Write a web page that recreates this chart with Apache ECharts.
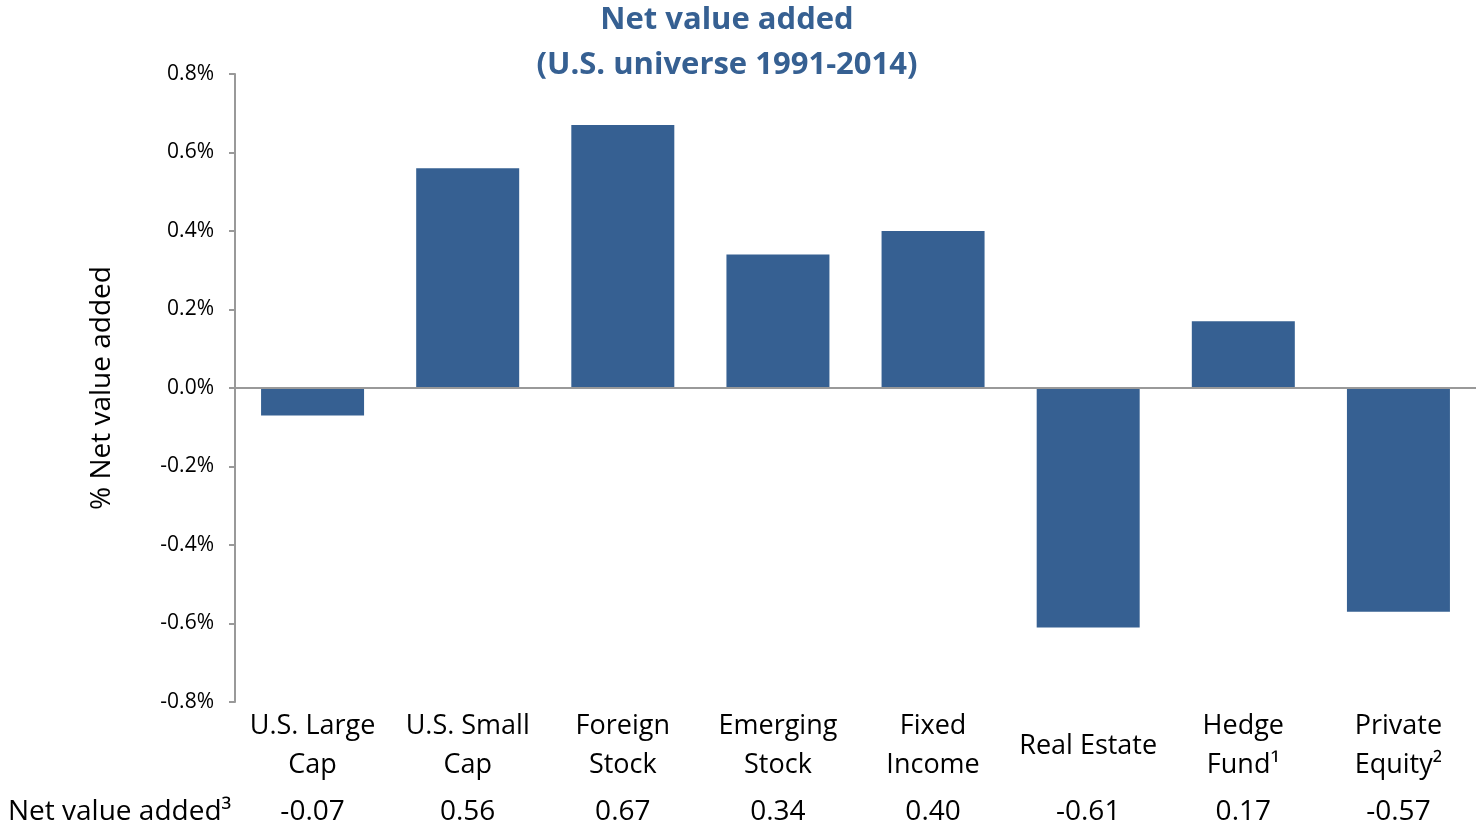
<!DOCTYPE html>
<html>
<head>
<meta charset="utf-8">
<script src="https://cdn.jsdelivr.net/npm/echarts@6/dist/echarts.min.js"></script>
<style>
  html, body { margin: 0; padding: 0; background: #fff; }
  #net-value-chart { width: 1476px; height: 829px; }
</style>
</head>
<body>
<div id="net-value-chart"></div>
<script>
// asset classes, left to right
const categories = [
  "U.S. Large\nCap", "U.S. Small\nCap", "Foreign\nStock", "Emerging\nStock",
  "Fixed\nIncome", "Real Estate", "Hedge\nFund¹", "Private\nEquity²"
];
// net value added, in percent
const netValueAdded = [-0.07, 0.56, 0.67, 0.34, 0.40, -0.61, 0.17, -0.57];
const yTicks = [-0.8, -0.6, -0.4, -0.2, 0.0, 0.2, 0.4, 0.6, 0.8];

const blue = "#366092";
const font = "'Open Sans', 'Liberation Sans', sans-serif";

let myChart = echarts.init(document.getElementById("net-value-chart"));

const option = {
  animation: false,
  textStyle: { fontFamily: font },
  title: [
    {
      text: "Net value added\n(U.S. universe 1991-2014)",
      left: 722,
      top: -7,
      textAlign: "center",
      textStyle: {
        color: blue,
        fontFamily: font,
        fontWeight: "bold",
        fontSize: 31,
        lineHeight: 45,
      },
    },
    {
      text: "Net value added³",
      left: 3,
      top: 793,
      textStyle: {
        color: "#000",
        fontFamily: font,
        fontWeight: "normal",
        fontSize: 28,
      },
    },
  ],
  grid: { left: 235, right: -3, top: 74, bottom: 127 },
  xAxis: [
    {
      type: "category",
      data: categories,
      position: "bottom",
      axisLine: { show: false, onZero: false },
      axisTick: { show: false },
      axisLabel: {
        interval: 0,
        color: "#000",
        fontSize: 27,
        lineHeight: 39,
        verticalAlign: "middle",
        margin: 44,
      },
    },
    {
      type: "category",
      data: netValueAdded.map((v) => v.toFixed(2)),
      position: "bottom",
      axisLine: { show: false, onZero: false },
      axisTick: { show: false },
      axisLabel: {
        interval: 0,
        color: "#000",
        fontSize: 28,
        verticalAlign: "middle",
        margin: 110,
      },
    },
  ],
  yAxis: {
    type: "value",
    min: yTicks[0],
    max: yTicks[yTicks.length - 1],
    interval: 0.2,
    name: "% Net value added",
    nameLocation: "middle",
    nameRotate: 90,
    nameGap: 119,
    nameTextStyle: { color: "#000", fontSize: 28 },
    axisLine: { show: true, lineStyle: { color: "#999", width: 2 } },
    axisTick: { show: true, inside: false, length: 6, lineStyle: { color: "#999", width: 2 } },
    splitLine: { show: false },
    axisLabel: {
      color: "#000",
      fontSize: 21,
      margin: 21,
      formatter: (v) => v.toFixed(1) + "%",
    },
  },
  series: [
    {
      name: "Net value added",
      type: "bar",
      data: netValueAdded,
      barWidth: 103,
      itemStyle: { color: blue },
      markLine: {
        silent: true,
        symbol: "none",
        label: { show: false },
        lineStyle: { color: "#999", width: 2, type: "solid" },
        data: [{ yAxis: 0 }],
      },
    },
  ],
};

myChart.setOption(option);
</script>
</body>
</html>
